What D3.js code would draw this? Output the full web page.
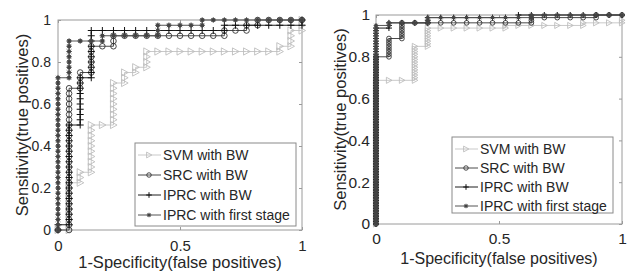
<!DOCTYPE html>
<html>
<head>
<meta charset="utf-8">
<script src="https://cdn.jsdelivr.net/npm/d3@7"></script>
<style>
  body { margin: 0; background: #fff; }
  svg text { font-family: "Liberation Sans", Arial, sans-serif; fill: #262626; }
</style>
</head>
<body>
<svg id="chart" width="634" height="273"></svg>
<script>
// ROC data: true-positive count reached at each false-positive count (0..N)
const seriesNames = ["SVM with BW", "SRC with BW", "IPRC with BW", "IPRC with first stage"];
const xTickLabels = ["0", "0.5", "1"];
const yTickLabels = ["0", "0.2", "0.4", "0.6", "0.8", "1"];

// left panel: 22 negatives, 40 positives
const negLeft = 22, posLeft = 40;
const svmLeft   = [0, 9, 11, 20, 20, 28, 30, 31, 34, 34, 34, 34, 34, 34, 34, 34, 34, 34, 34, 34, 35, 38, 40];
const srcLeft   = [0, 27, 30, 35, 35, 37, 37, 37, 37, 37, 37, 37, 37, 37, 37, 38, 38, 39, 40, 40, 40, 40, 40];
const iprcLeft  = [1, 20, 29, 38, 38, 38, 38, 38, 38, 38, 38, 38, 38, 38, 38, 39, 39, 39, 39, 39, 39, 39, 40];
const firstLeft = [29, 36, 36, 36, 37, 37, 37, 37, 37, 39, 39, 39, 39, 40, 40, 40, 40, 40, 40, 40, 40, 40, 40];

// right panel: 19 negatives, 80 positives
const negRight = 19, posRight = 80;
const svmRight   = [55, 55, 55, 68, 75, 75, 75, 75, 75, 75, 76, 76, 76, 76, 76, 76, 77, 77, 77, 78];
const srcRight   = [64, 71, 77, 77, 77, 77, 77, 77, 77, 77, 77, 77, 79, 79, 79, 79, 79, 80, 80, 80];
const iprcRight  = [75, 77, 77, 77, 79, 79, 79, 79, 79, 79, 79, 80, 80, 80, 80, 80, 80, 80, 80, 80];
const firstRight = [76, 77, 77, 77, 79, 79, 79, 79, 79, 79, 79, 79, 80, 80, 80, 80, 80, 80, 80, 80];

const styles = [
  { line: "#c9c9c9", mark: "tri" },
  { line: "#4a4a4a", mark: "circ" },
  { line: "#1e1e1e", mark: "plus" },
  { line: "#555555", mark: "star" }
];

const svg = d3.select("#chart");

// turn cumulative counts into ROC points
function rocPoints(tp, N, P) {
  const pts = [];
  tp.forEach((c, k) => {
    const start = k === 0 ? 0 : tp[k - 1];
    for (let i = start; i <= c; i++) pts.push([k / N, i / P]);
  });
  return pts;
}

function drawMarker(g, type, s) {
  if (type === "tri") {
    g.append("path").attr("d", `M${-3 * s},${-3.6 * s}L${3.6 * s},0L${-3 * s},${3.6 * s}Z`)
      .attr("fill", "none").attr("stroke", "#bdbdbd").attr("stroke-width", 0.9);
  } else if (type === "circ") {
    g.append("circle").attr("r", 2.8 * s)
      .attr("fill", "none").attr("stroke", "#333").attr("stroke-width", 0.9);
  } else if (type === "plus") {
    g.append("path").attr("d", `M${-3.5 * s},0H${3.5 * s}M0,${-3.5 * s}V${3.5 * s}`)
      .attr("stroke", "#111").attr("stroke-width", 1);
  } else {
    const r = 2.8 * s;
    g.append("path")
      .attr("d", `M${-r},0H${r}M0,${-r}V${r}M${-r * 0.7},${-r * 0.7}L${r * 0.7},${r * 0.7}M${-r * 0.7},${r * 0.7}L${r * 0.7},${-r * 0.7}`)
      .attr("stroke", "#444").attr("stroke-width", 0.9);
    g.append("circle").attr("r", 1.9 * s).attr("fill", "#444");
  }
}

function drawPanel(cfg, curves) {
  const x = d3.scaleLinear().domain([0, 1]).range([cfg.left, cfg.right]);
  const y = d3.scaleLinear().domain([0, 1]).range([cfg.bottom, cfg.top]);
  const g = svg.append("g");

  // box
  g.append("rect").attr("x", cfg.left).attr("y", cfg.top)
    .attr("width", cfg.right - cfg.left).attr("height", cfg.bottom - cfg.top)
    .attr("fill", "none").attr("stroke", "#9a9a9a");

  const xAxis = g.append("g").attr("transform", `translate(0,${cfg.bottom})`)
    .call(d3.axisBottom(x).tickValues([0, 0.5, 1]).tickSize(-3).tickPadding(cfg.xPad)
      .tickFormat((d, i) => xTickLabels[i]));
  const xTop = g.append("g").attr("transform", `translate(0,${cfg.top})`)
    .call(d3.axisTop(x).tickValues([0, 0.5, 1]).tickSize(-3).tickFormat(""));
  const yAxis = g.append("g").attr("transform", `translate(${cfg.left},0)`)
    .call(d3.axisLeft(y).tickValues([0, 0.2, 0.4, 0.6, 0.8, 1]).tickSize(-3).tickPadding(cfg.yPad)
      .tickFormat((d, i) => yTickLabels[i]));
  const yRight = g.append("g").attr("transform", `translate(${cfg.right},0)`)
    .call(d3.axisRight(y).tickValues([0, 0.2, 0.4, 0.6, 0.8, 1]).tickSize(-3).tickFormat(""));

  [xAxis, xTop, yAxis, yRight].forEach(a => {
    a.select(".domain").remove();
    a.selectAll("line").attr("stroke", "#9a9a9a");
    a.selectAll("text").attr("fill", "#262626");
  });
  xAxis.selectAll("text").style("font-size", cfg.xTickFont + "px");
  yAxis.selectAll("text").style("font-size", cfg.yTickFont + "px");

  // curves
  const line = d3.line().x(d => x(d[0])).y(d => y(d[1]));
  curves.forEach((c, i) => {
    const pts = rocPoints(c, cfg.N, cfg.P);
    g.append("path").attr("d", line(pts)).attr("fill", "none")
      .attr("stroke", styles[i].line).attr("stroke-width", 1);
    const mg = g.append("g");
    pts.forEach(p => {
      const m = mg.append("g").attr("transform", `translate(${x(p[0])},${y(p[1])})`);
      drawMarker(m, styles[i].mark, cfg.ms);
    });
  });

  // labels
  g.append("text").attr("x", (cfg.left + cfg.right) / 2).attr("y", cfg.xLabelY)
    .attr("text-anchor", "middle").style("font-size", cfg.xLabelFont + "px")
    .text("1-Specificity(false positives)");
  g.append("text").attr("transform", `translate(${cfg.yLabelX},${(cfg.top + cfg.bottom) / 2}) rotate(-90)`)
    .attr("text-anchor", "middle").style("font-size", cfg.yLabelFont + "px")
    .text("Sensitivity(true positives)");

  // legend
  const lg = g.append("g");
  lg.append("rect").attr("x", cfg.lg.x).attr("y", cfg.lg.y).attr("width", cfg.lg.w).attr("height", cfg.lg.h)
    .attr("fill", "#fff").attr("stroke", "#8a8a8a");
  seriesNames.forEach((name, i) => {
    const ry = cfg.lg.y + cfg.lg.first + i * cfg.lg.step;
    lg.append("line").attr("x1", cfg.lg.x + 3).attr("x2", cfg.lg.x + 26).attr("y1", ry).attr("y2", ry)
      .attr("stroke", styles[i].line);
    const m = lg.append("g").attr("transform", `translate(${cfg.lg.x + 14},${ry})`);
    drawMarker(m, styles[i].mark, 0.8);
    lg.append("text").attr("x", cfg.lg.x + 28).attr("y", ry + 5).style("font-size", "14px").text(name);
  });
}

drawPanel({
  left: 58, right: 302, top: 20, bottom: 230, N: negLeft, P: posLeft, ms: 1,
  xPad: 10, yPad: 7, xLabelY: 268, yLabelX: 28,
  xTickFont: 15, yTickFont: 14, xLabelFont: 16.5, yLabelFont: 16.5,
  lg: { x: 135, y: 143, w: 161, h: 83, first: 12, step: 20 }
}, [svmLeft, srcLeft, iprcLeft, firstLeft]);

drawPanel({
  left: 376, right: 622, top: 15, bottom: 224, N: negRight, P: posRight, ms: 0.85,
  xPad: 9, yPad: 6, xLabelY: 264, yLabelX: 346,
  xTickFont: 15.5, yTickFont: 15.5, xLabelFont: 16, yLabelFont: 16.5,
  lg: { x: 452, y: 137, w: 161, h: 76, first: 12, step: 19 }
}, [svmRight, srcRight, iprcRight, firstRight]);
</script>
</body>
</html>
